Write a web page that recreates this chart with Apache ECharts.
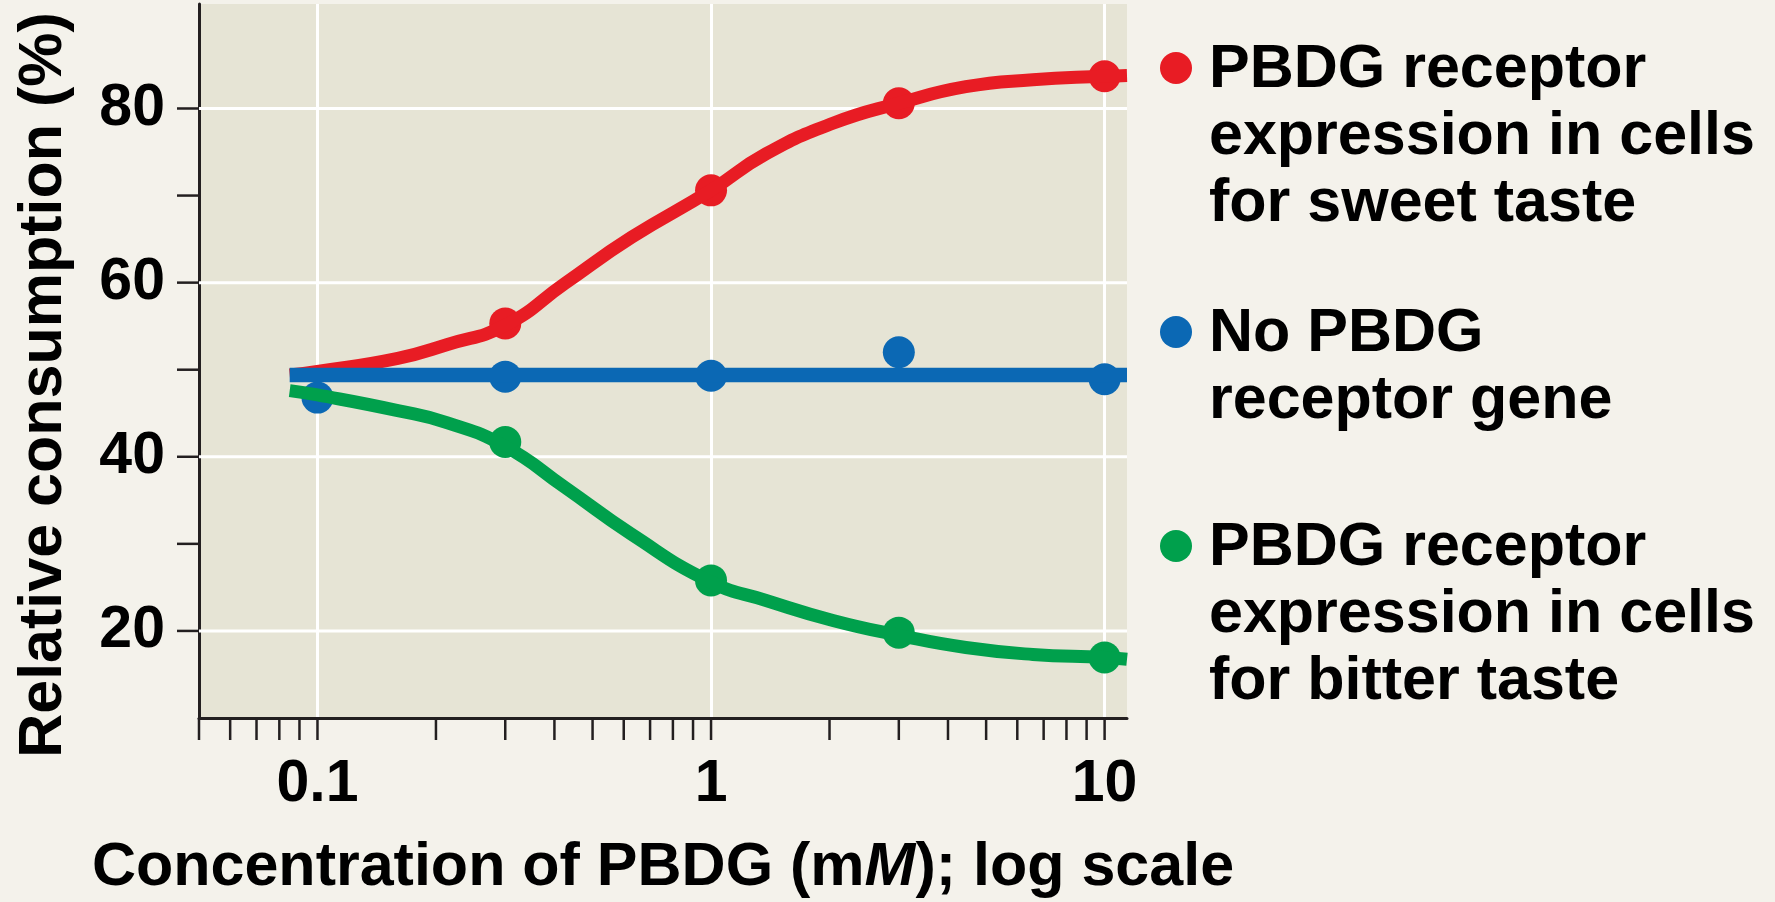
<!DOCTYPE html>
<html>
<head>
<meta charset="utf-8">
<script src="https://cdn.jsdelivr.net/npm/echarts@6/dist/echarts.min.js"></script>
<style>
html, body { margin: 0; padding: 0; background: #F4F2EB; }
#chart { width: 1775px; height: 902px; }
</style>
</head>
<body>
<div id="chart"></div>
<script>
// ---- data ----
const xTickLabels = [0.1, 1, 10];
const xTickValues = [0.05, 0.06, 0.07, 0.08, 0.09, 0.1, 0.2, 0.3, 0.4, 0.5, 0.6, 0.7, 0.8, 0.9, 1, 2, 3, 4, 5, 6, 7, 8, 9, 10];
const yTickLabels = [20, 40, 60, 80];
const yTickValues = [20, 30, 40, 50, 60, 70, 80];
const xMin = 0.05, xMax = 11.4, yMin = 10, yMax = 92;

const concentrations = [0.1, 0.3, 1, 3, 10];
const sweetValues = [null, 55.3, 70.6, 80.6, 83.7];
const noReceptorValues = [46.8, 49.2, 49.3, 52.0, 48.9];
const bitterValues = [null, 41.7, 25.8, 19.8, 16.95];

const curveX = [0.085, 0.1, 0.16, 0.214, 0.3, 0.425, 0.628, 1, 1.38, 2.04, 3, 4.44, 6.57, 10, 11.4];
const sweetCurve = [49.4, 49.8, 51.3, 52.9, 55.1, 59.9, 65.2, 70.6, 74.8, 78.3, 80.6, 82.5, 83.3, 83.7, 83.8];
const bitterCurve = [47.6, 47.1, 45.3, 43.9, 41.2, 36.5, 31.1, 25.6, 23.5, 21.2, 19.5, 18.1, 17.3, 16.95, 16.75];
const noReceptorLineX = [0.085, 11.4];
const noReceptorLine = [49.4, 49.4];

const seriesNames = [
  'PBDG receptor\nexpression in cells\nfor sweet taste',
  'No PBDG\nreceptor gene',
  'PBDG receptor\nexpression in cells\nfor bitter taste'
];

// ---- styles ----
const RED = '#E81C24', BLUE = '#0B68B4', GREEN = '#00A04C';
const INK = '#231F20';
const FONT = "'Liberation Sans', Arial, Helvetica, sans-serif";

function pairs(xs, ys) {
  const out = [];
  xs.forEach((x, i) => { if (ys[i] !== null && ys[i] !== undefined) out.push([x, ys[i]]); });
  return out;
}

const chart = echarts.init(document.getElementById('chart'), null, { renderer: 'canvas' });

const option = {
  backgroundColor: '#F4F2EB',
  animation: false,
  grid: {
    left: 199, right: 648, top: 4, bottom: 184,
    show: true, backgroundColor: '#E6E4D5', borderWidth: 0,
    outerBoundsMode: 'none'
  },
  xAxis: {
    type: 'log', logBase: 10, min: xMin, max: xMax,
    axisLine: { show: true, lineStyle: { color: INK, width: 3 } },
    axisTick: { show: false },
    axisLabel: {
      margin: 37, fontSize: 59, fontWeight: 'bold', fontFamily: FONT, color: '#000',
      formatter: function (v) {
        const t = xTickLabels.find(l => Math.abs(l - v) / l < 1e-6);
        return t !== undefined ? String(t) : '';
      }
    },
    splitLine: { show: true, showMinLine: false, showMaxLine: false, lineStyle: { color: '#FFFFFF', width: 3 } },
    name: 'Concentration of PBDG (m{i|M}); log scale',
    nameLocation: 'middle',
    nameGap: 120,
    nameTextStyle: {
      fontSize: 61, fontWeight: 'bold', fontFamily: FONT, color: '#000',
      rich: { i: { fontSize: 61, fontWeight: 'bold', fontStyle: 'italic', fontFamily: FONT, color: '#000' } }
    }
  },
  yAxis: {
    type: 'value', min: yMin, max: yMax, interval: 10,
    axisLine: { show: true, lineStyle: { color: INK, width: 3 } },
    axisTick: { show: false },
    splitLine: { show: false },
    axisLabel: {
      margin: 34, fontSize: 59, fontWeight: 'bold', fontFamily: FONT, color: '#000',
      formatter: function (v) { return yTickLabels.indexOf(v) >= 0 ? String(v) : ''; }
    }
  },
  graphic: [
    {
      type: 'text', x: 44, y: 385, rotation: Math.PI / 2,
      style: {
        text: 'Relative consumption (%)', fill: '#000',
        font: 'bold 61px ' + FONT, align: 'center', verticalAlign: 'middle',
        textAlign: 'center', textVerticalAlign: 'middle'
      }
    },
    { type: 'circle', shape: { cx: 1176, cy: 68, r: 16 }, style: { fill: RED } },
    { type: 'circle', shape: { cx: 1176, cy: 332, r: 16 }, style: { fill: BLUE } },
    { type: 'circle', shape: { cx: 1176, cy: 546, r: 16 }, style: { fill: GREEN } },
    {
      type: 'text', x: 1209, y: 37,
      style: { text: seriesNames[0], fill: '#000', font: 'bold 61px ' + FONT, lineHeight: 67, verticalAlign: 'top', textVerticalAlign: 'top' }
    },
    {
      type: 'text', x: 1209, y: 301,
      style: { text: seriesNames[1], fill: '#000', font: 'bold 61px ' + FONT, lineHeight: 67, verticalAlign: 'top', textVerticalAlign: 'top' }
    },
    {
      type: 'text', x: 1209, y: 515,
      style: { text: seriesNames[2], fill: '#000', font: 'bold 61px ' + FONT, lineHeight: 67, verticalAlign: 'top', textVerticalAlign: 'top' }
    }
  ],
  series: [
    // horizontal white grid lines
    {
      type: 'custom', silent: true, z: 1,
      data: yTickLabels.map(v => [xMin, v]),
      encode: { x: 0, y: 1 },
      renderItem: function (params, api) {
        const v = api.value(1);
        const p1 = api.coord([xMin, v]);
        const p2 = api.coord([xMax, v]);
        return { type: 'line', shape: { x1: p1[0], y1: p1[1], x2: p2[0], y2: p2[1] }, style: { stroke: '#FFFFFF', lineWidth: 3 } };
      }
    },
    // x-axis ticks
    {
      type: 'custom', silent: true, z: 3, clip: false,
      data: xTickValues.map(v => [v, yMin]),
      encode: { x: 0, y: 1 },
      renderItem: function (params, api) {
        const p = api.coord([api.value(0), yMin]);
        return { type: 'line', shape: { x1: p[0], y1: p[1], x2: p[0], y2: p[1] + 22 }, style: { stroke: INK, lineWidth: 2.5 } };
      }
    },
    // y-axis ticks
    {
      type: 'custom', silent: true, z: 3, clip: false,
      data: yTickValues.map(v => [xMin, v]),
      encode: { x: 0, y: 1 },
      renderItem: function (params, api) {
        const p = api.coord([xMin, api.value(1)]);
        return { type: 'line', shape: { x1: p[0] - 22, y1: p[1], x2: p[0], y2: p[1] }, style: { stroke: INK, lineWidth: 2.5 } };
      }
    },
    {
      name: seriesNames[0] + ' fit', type: 'line', data: pairs(curveX, sweetCurve),
      showSymbol: false, smooth: 0.5, silent: true,
      lineStyle: { color: RED, width: 13, cap: 'butt' }
    },
    {
      name: seriesNames[2] + ' fit', type: 'line', data: pairs(curveX, bitterCurve),
      showSymbol: false, smooth: 0.5, silent: true,
      lineStyle: { color: GREEN, width: 13, cap: 'butt' }
    },
    {
      name: seriesNames[1] + ' fit', type: 'line', data: pairs(noReceptorLineX, noReceptorLine),
      showSymbol: false, silent: true,
      lineStyle: { color: BLUE, width: 14.5, cap: 'butt' }
    },
    {
      name: seriesNames[0], type: 'scatter', data: pairs(concentrations, sweetValues),
      symbolSize: 32, itemStyle: { color: RED, opacity: 1 }
    },
    {
      name: seriesNames[2], type: 'scatter', data: pairs(concentrations, bitterValues),
      symbolSize: 32, itemStyle: { color: GREEN, opacity: 1 }
    },
    {
      name: seriesNames[1], type: 'scatter', data: pairs(concentrations, noReceptorValues),
      symbolSize: 32, itemStyle: { color: BLUE, opacity: 1 }
    }
  ]
};

chart.setOption(option);
</script>
</body>
</html>
